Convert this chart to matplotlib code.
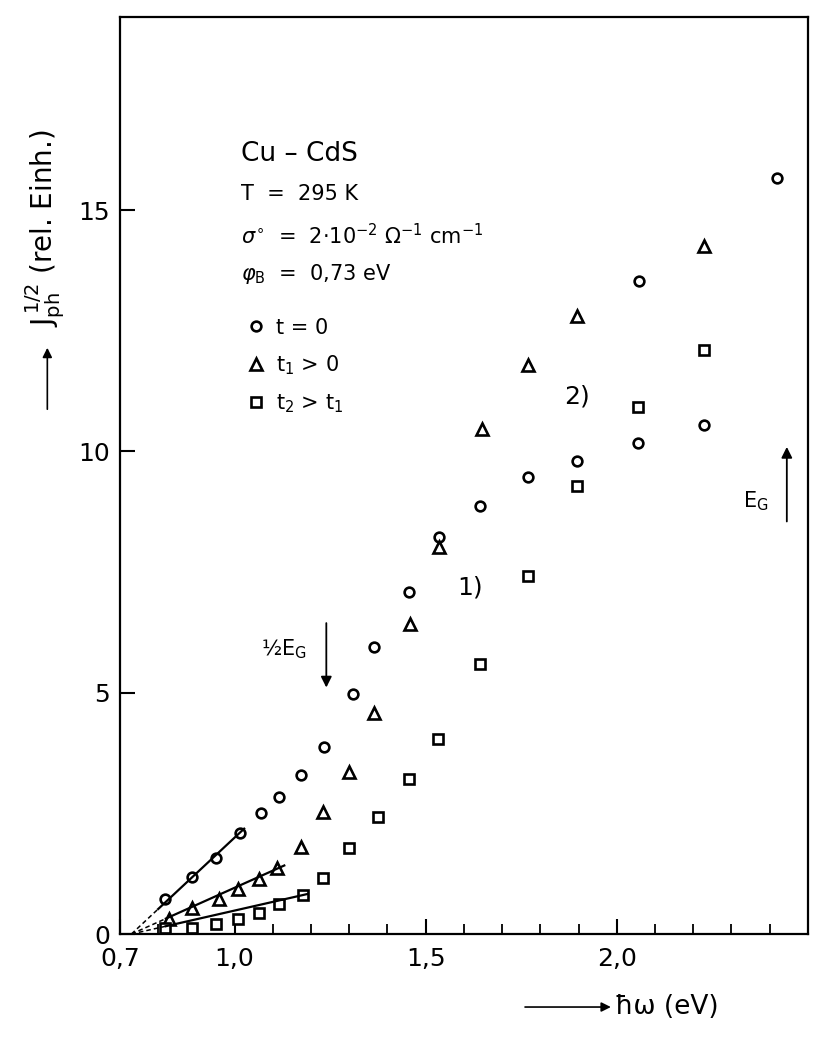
"""
plot.py
Photoyield J_ph^1/2 vs photon energy for Cu-CdS (Fowler plot).
"""

import matplotlib
matplotlib.use("Agg")
import matplotlib.pyplot as plt
from matplotlib.ticker import MultipleLocator
import numpy as np

# t = 0 (circles)
circ_x = [0.818, 0.888, 0.951, 1.013, 1.068, 1.115, 1.174, 1.234, 1.31, 1.365,
          1.456, 1.534, 1.643, 1.768, 1.896, 2.055, 2.227, 2.057, 2.42]
circ_y = [0.72, 1.18, 1.57, 2.09, 2.50, 2.83, 3.29, 3.88, 4.98, 5.95,
          7.09, 8.22, 8.86, 9.46, 9.81, 10.17, 10.54, 13.53, 15.66]

# t1 > 0 (triangles)
tri_x = [0.828, 0.888, 0.958, 1.010, 1.063, 1.112, 1.174, 1.232, 1.30, 1.365,
         1.458, 1.534, 1.648, 1.768, 1.896, 2.227]
tri_y = [0.31, 0.54, 0.72, 0.93, 1.14, 1.36, 1.80, 2.52, 3.35, 4.57,
         6.43, 8.02, 10.47, 11.80, 12.81, 14.26]

# t2 > t1 (squares)
sq_x = [0.818, 0.888, 0.951, 1.010, 1.065, 1.117, 1.180, 1.232, 1.30, 1.375,
        1.456, 1.531, 1.643, 1.768, 1.896, 2.055, 2.227]
sq_y = [0.12, 0.12, 0.21, 0.31, 0.43, 0.62, 0.81, 1.16, 1.78, 2.42,
        3.22, 4.05, 5.60, 7.42, 9.28, 10.91, 12.11]

# Fowler fit lines through the barrier height
phi_B = 0.73
fit_slopes = [7.4, 3.55, 1.8]
fit_solid_start = [0.80, 0.82, 0.82]
fit_solid_end = [1.025, 1.13, 1.19]

E_G = 2.445
half_E_G = 1.24

x_ticks = [0.7, 1.0, 1.5, 2.0]
x_ticklabels = ["0,7", "1,0", "1,5", "2,0"]
y_ticks = [0, 5, 10, 15]


def create_plot():
    plt.rcParams["font.family"] = ["DejaVu Sans"]
    plt.rcParams["mathtext.fontset"] = "dejavusans"

    fig = plt.figure(figsize=(8.16, 10.37), dpi=100)
    ax = fig.add_axes([0.147, 0.0993, 0.843, 0.8843])

    mk = dict(linestyle="none", mfc="white", mec="black", mew=1.9)
    h1, = ax.plot(circ_x, circ_y, marker="o", ms=7, label="t = 0", **mk)
    h2, = ax.plot(tri_x, tri_y, marker="^", ms=8, label="t$_1$ > 0", **mk)
    h3, = ax.plot(sq_x, sq_y, marker="s", ms=7, label="t$_2$ > t$_1$", **mk)

    # fit lines: solid over the fitted points, dashed extrapolation to phi_B
    for k, x0, x1 in zip(fit_slopes, fit_solid_start, fit_solid_end):
        xs = np.array([x0, x1])
        ax.plot(xs, k * (xs - phi_B), color="black", lw=1.6, zorder=3)
        xd = np.array([phi_B, x0])
        ax.plot(xd, k * (xd - phi_B), color="black", lw=1.1,
                linestyle=(0, (3, 2)), zorder=3)

    ax.set_xlim(0.7, 2.5)
    ax.set_ylim(0, 19)
    ax.set_xticks(x_ticks)
    ax.set_xticklabels(x_ticklabels)
    ax.xaxis.set_minor_locator(MultipleLocator(0.1))
    ax.set_yticks(y_ticks)
    ax.tick_params(axis="both", which="major", direction="in", length=11,
                   width=1.5, labelsize=18)
    ax.tick_params(axis="x", which="major", pad=9)
    ax.tick_params(axis="y", which="major", pad=7)
    ax.tick_params(axis="x", which="minor", direction="in", length=7, width=1.3)
    for s in ax.spines.values():
        s.set_linewidth(1.6)

    # parameter block
    ax.text(1.018, 16.16, "Cu – CdS", fontsize=19, va="center", ha="left")
    ax.text(1.018, 15.33, "T  =  295 K", fontsize=15, va="center", ha="left")
    ax.text(1.018, 14.48, r"$\sigma^{\circ}$  =  2·10$^{-2}$ $\Omega^{-1}$ cm$^{-1}$",
            fontsize=15, va="center", ha="left")
    ax.text(1.018, 13.68, r"$\varphi_{\mathrm{B}}$  =  0,73 eV", fontsize=15,
            va="center", ha="left")

    ax.legend(handles=[h1, h2, h3], loc="upper left",
              bbox_to_anchor=(0.185, 0.672), frameon=False, fontsize=15,
              handlelength=0.8, handletextpad=0.6, labelspacing=0.75,
              borderpad=0, borderaxespad=0)

    # curve labels and band-gap markers
    ax.text(1.617, 7.17, "1)", fontsize=18, ha="center", va="center")
    ax.text(1.896, 11.14, "2)", fontsize=18, ha="center", va="center")

    ax.annotate("", xy=(half_E_G, 5.05), xytext=(half_E_G, 6.5),
                arrowprops=dict(arrowstyle="-|>", color="black", lw=1.3,
                                mutation_scale=16))
    ax.text(1.128, 5.91, r"½E$_{\mathrm{G}}$", fontsize=15, ha="center",
            va="center")

    ax.annotate("", xy=(E_G, 10.15), xytext=(E_G, 8.49),
                arrowprops=dict(arrowstyle="-|>", color="black", lw=1.3,
                                mutation_scale=16))
    ax.text(2.365, 8.97, r"E$_{\mathrm{G}}$", fontsize=15, ha="center",
            va="center")

    # axis labels with leading arrows
    ax.annotate("", xy=(0.752, 0.0289), xytext=(0.640, 0.0289),
                xycoords="figure fraction", textcoords="figure fraction",
                arrowprops=dict(arrowstyle="-|>", color="black", lw=1.2,
                                mutation_scale=14))
    fig.text(0.754, 0.0289, "ħω (eV)", fontsize=19, ha="left", va="center")

    fig.text(0.055, 1 - 228 / 1037, r"J$_{\mathrm{ph}}^{\,1/2}$ (rel. Einh.)",
             fontsize=20, rotation=90, ha="center", va="center")
    ax.annotate("", xy=(0.058, 1 - 345 / 1037), xytext=(0.058, 1 - 412 / 1037),
                xycoords="figure fraction", textcoords="figure fraction",
                arrowprops=dict(arrowstyle="-|>", color="black", lw=1.2,
                                mutation_scale=14))

    fig.savefig("out.png", dpi=100)
    plt.close("all")


if __name__ == "__main__":
    create_plot()
